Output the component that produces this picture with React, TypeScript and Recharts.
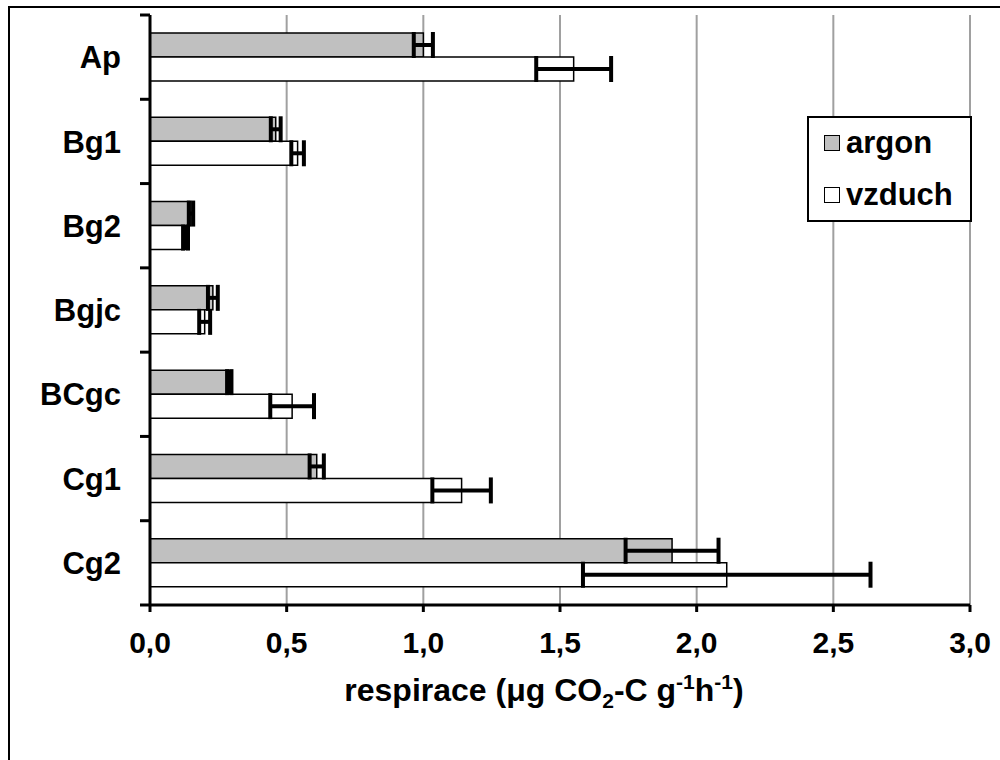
import { BarChart, Bar, XAxis, YAxis, CartesianGrid, ErrorBar } from "recharts";

const horizons = ["Ap", "Bg1", "Bg2", "Bgjc", "BCgc", "Cg1", "Cg2"];
const argon = [1.0, 0.46, 0.15, 0.23, 0.29, 0.61, 1.91];
const argonErr = [0.035, 0.018, 0.008, 0.018, 0.008, 0.026, 0.17];
const vzduch = [1.55, 0.54, 0.13, 0.2, 0.52, 1.14, 2.11];
const vzduchErr = [0.137, 0.023, 0.009, 0.02, 0.08, 0.107, 0.526];
const xTicks = [0, 0.5, 1, 1.5, 2, 2.5, 3];

const data = horizons.map((h, i) => ({
  name: h,
  argon: argon[i],
  argonErr: argonErr[i],
  vzduch: vzduch[i],
  vzduchErr: vzduchErr[i],
}));

const FONT = "Arial, 'Liberation Sans', sans-serif";
const PLOT_TOP = 15;
const PLOT_BOTTOM = 605;
const AXIS_X = 150;
const BAND = (PLOT_BOTTOM - PLOT_TOP) / horizons.length;

function YTick(props: any) {
  const { y, payload, index } = props;
  return (
    <g>
      <line x1={AXIS_X - 10} x2={AXIS_X} y1={y - BAND / 2} y2={y - BAND / 2} stroke="#000" strokeWidth={3} />
      {index === horizons.length - 1 && (
        <line x1={AXIS_X - 10} x2={AXIS_X} y1={y + BAND / 2} y2={y + BAND / 2} stroke="#000" strokeWidth={3} />
      )}
      <text x={121} y={y} dy="0.36em" textAnchor="end" fontFamily={FONT} fontWeight="bold" fontSize={31} fill="#000">
        {payload.value}
      </text>
    </g>
  );
}

function XTitle(props: any) {
  const vb = props.viewBox || {};
  const cx = vb.x + vb.width / 2 - 16;
  return (
    <text x={cx} y={701} textAnchor="middle" fontFamily={FONT} fontWeight="bold" fontSize={32} fill="#000">
      <tspan>respirace (μg CO</tspan>
      <tspan fontSize={21} dy={7}>2</tspan>
      <tspan dy={-7}>-C g</tspan>
      <tspan fontSize={21} dy={-12}>-1</tspan>
      <tspan dy={12}>h</tspan>
      <tspan fontSize={21} dy={-12}>-1</tspan>
      <tspan dy={12}>)</tspan>
    </text>
  );
}

function LegendBox() {
  const items = [
    { label: "argon", fill: "#c0c0c0" },
    { label: "vzduch", fill: "#fff" },
  ];
  return (
    <div
      style={{
        position: "absolute",
        left: 807,
        top: 116,
        width: 161,
        height: 102,
        border: "2px solid #000",
        background: "#fff",
        fontFamily: FONT,
        fontWeight: "bold",
        fontSize: 31,
      }}
    >
      {items.map((it, i) => (
        <div key={it.label} style={{ position: "absolute", left: 15, top: 6 + i * 52, display: "flex", alignItems: "center", lineHeight: "38px" }}>
          <span style={{ display: "inline-block", width: 14, height: 14, border: "1.5px solid #000", background: it.fill, marginRight: 6 }} />
          <span>{it.label}</span>
        </div>
      ))}
    </div>
  );
}

export default function App() {
  return (
    <div style={{ position: "absolute", left: 0, top: 0, width: 1000, height: 760, background: "#fff", overflow: "hidden" }}>
      <div
        style={{
          position: "absolute",
          left: 8,
          top: 6,
          width: 1100,
          height: 900,
          borderTop: "2px solid #000",
          borderLeft: "2px solid #000",
        }}
      />
      <div style={{ position: "absolute", left: 0, top: 0 }}>
        <BarChart
          width={1000}
          height={760}
          data={data}
          layout="vertical"
          margin={{ top: PLOT_TOP, right: 30, left: 0, bottom: 55 }}
          barGap={0}
          barSize={24}
        >
          <CartesianGrid horizontal={false} stroke="#a0a0a0" strokeWidth={2} />
          <XAxis
            type="number"
            domain={[0, 3]}
            ticks={xTicks}
            interval={0}
            height={100}
            tickFormatter={(v: number) => v.toFixed(1).replace(".", ",")}
            axisLine={{ stroke: "#000", strokeWidth: 3 }}
            tickLine={{ stroke: "#000", strokeWidth: 3 }}
            tickSize={7}
            tickMargin={20}
            tick={{ fill: "#000", fontSize: 30, fontWeight: "bold", fontFamily: FONT }}
            label={<XTitle />}
          />
          <YAxis
            type="category"
            dataKey="name"
            width={AXIS_X}
            axisLine={{ stroke: "#000", strokeWidth: 3 }}
            tickLine={false}
            tick={<YTick />}
            interval={0}
          />
          <Bar dataKey="argon" fill="#c0c0c0" stroke="#000" strokeWidth={1.5} isAnimationActive={false}>
            <ErrorBar dataKey="argonErr" direction="x" width={13} stroke="#000" strokeWidth={4} />
          </Bar>
          <Bar dataKey="vzduch" fill="#fff" stroke="#000" strokeWidth={1.5} isAnimationActive={false}>
            <ErrorBar dataKey="vzduchErr" direction="x" width={13} stroke="#000" strokeWidth={4} />
          </Bar>
        </BarChart>
      </div>
      <LegendBox />
    </div>
  );
}
